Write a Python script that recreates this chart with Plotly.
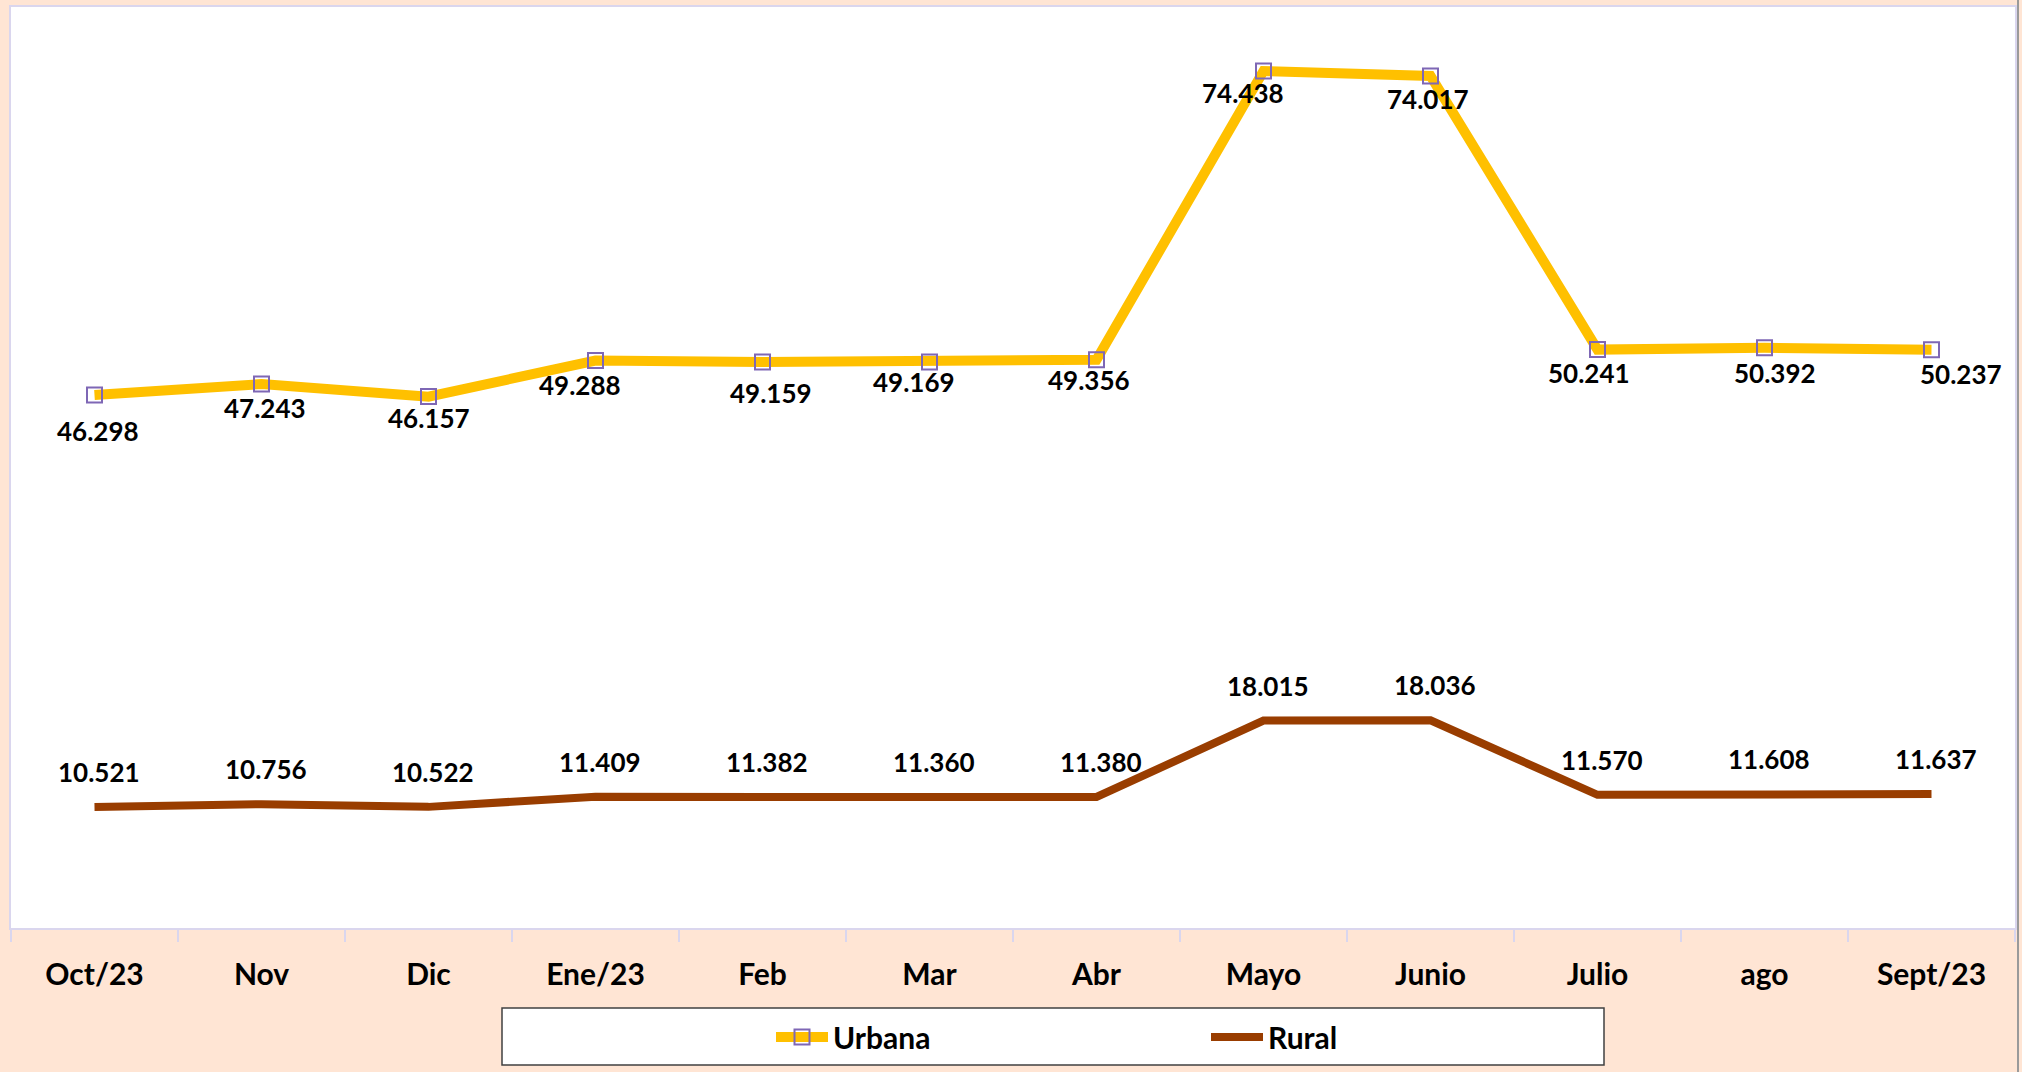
import plotly.graph_objects as go

categories = ["Oct/23", "Nov", "Dic", "Ene/23", "Feb", "Mar", "Abr", "Mayo", "Junio", "Julio", "ago", "Sept/23"]
urbana = [46.298, 47.243, 46.157, 49.288, 49.159, 49.169, 49.356, 74.438, 74.017, 50.241, 50.392, 50.237]
rural = [10.521, 10.756, 10.522, 11.409, 11.382, 11.360, 11.380, 18.015, 18.036, 11.570, 11.608, 11.637]

# label offsets (pixels) – styling only
urb_dy = [36, 24, 21, 24, 31, 20, 20, 22, 23, 23, 25, 24]
urb_dx = [3, 3, 0, -16, 8, -16, -8, -21, -3, -9, 10, 29]

W, H = 2022, 1072
L, R, T, B = 11, 7, 7, 144
PW = W - L - R
PH = H - T - B

def px_x(p):
    return (p - L) / PW

def px_y(p):
    return (H - B - p) / PH

PEACH = "#FFE5D4"
LAV = "#DAD6EE"
FONT = "Lato"

fig = go.Figure()
fig.add_trace(go.Scatter(
    x=categories, y=urbana, name="Urbana", mode="lines+markers",
    line=dict(color="#FFC000", width=10),
    marker=dict(symbol="square-open", size=15, color="#7E67B5", line=dict(color="#7E67B5", width=2)),
))
fig.add_trace(go.Scatter(
    x=categories, y=rural, name="Rural", mode="lines",
    line=dict(color="#993D00", width=8),
))

annotations = []
for i, (c, v) in enumerate(zip(categories, urbana)):
    annotations.append(dict(x=c, y=v, xref="x", yref="y", text=f"{v:.3f}", showarrow=False,
                            xshift=urb_dx[i], yshift=-urb_dy[i],
                            font=dict(family=FONT, size=26, color="black", weight="bold")))
for i, (c, v) in enumerate(zip(categories, rural)):
    annotations.append(dict(x=c, y=v, xref="x", yref="y", text=f"{v:.3f}", showarrow=False,
                            xshift=4, yshift=35,
                            font=dict(family=FONT, size=26, color="black", weight="bold")))

shapes = [
    dict(type="rect", xref="paper", yref="paper", x0=px_x(502), x1=px_x(1604), y0=px_y(1065), y1=px_y(1008),
         line=dict(color="#404040", width=1.5), fillcolor="white", layer="below"),
    dict(type="line", xref="paper", yref="paper", x0=px_x(2018), x1=px_x(2018), y0=px_y(0), y1=px_y(1072),
         line=dict(color="#9A9A9A", width=2)),
]

fig.update_layout(
    width=W, height=H,
    margin=dict(l=L, r=R, t=T, b=B, autoexpand=False),
    paper_bgcolor=PEACH, plot_bgcolor="white",
    showlegend=True,
    legend=dict(orientation="h", x=px_x(771), xanchor="left", y=px_y(1037), yanchor="middle",
                bgcolor="rgba(0,0,0,0)", entrywidth=368, entrywidthmode="pixels", itemwidth=52,
                font=dict(family=FONT, size=30, color="black", weight="bold")),
    annotations=annotations,
    shapes=shapes,
    xaxis=dict(range=[-0.5, 11.5], autorange=False, showgrid=False, zeroline=False, showline=True,
               linecolor=LAV, linewidth=2, mirror=True,
               ticks="outside", tickson="boundaries", ticklen=12, tickcolor=LAV, tickwidth=2,
               ticklabelstandoff=19,
               tickfont=dict(family=FONT, size=30, color="black", weight="bold")),
    yaxis=dict(range=[0, 80], showgrid=False, zeroline=False, showticklabels=False,
               showline=True, linecolor=LAV, linewidth=2, mirror=True),
)

fig.write_html(
    "out.html",
    config={"displayModeBar": False},
    post_script="document.body.style.margin='0';document.body.style.background='" + PEACH + "';document.body.style.overflow='hidden';",
)
